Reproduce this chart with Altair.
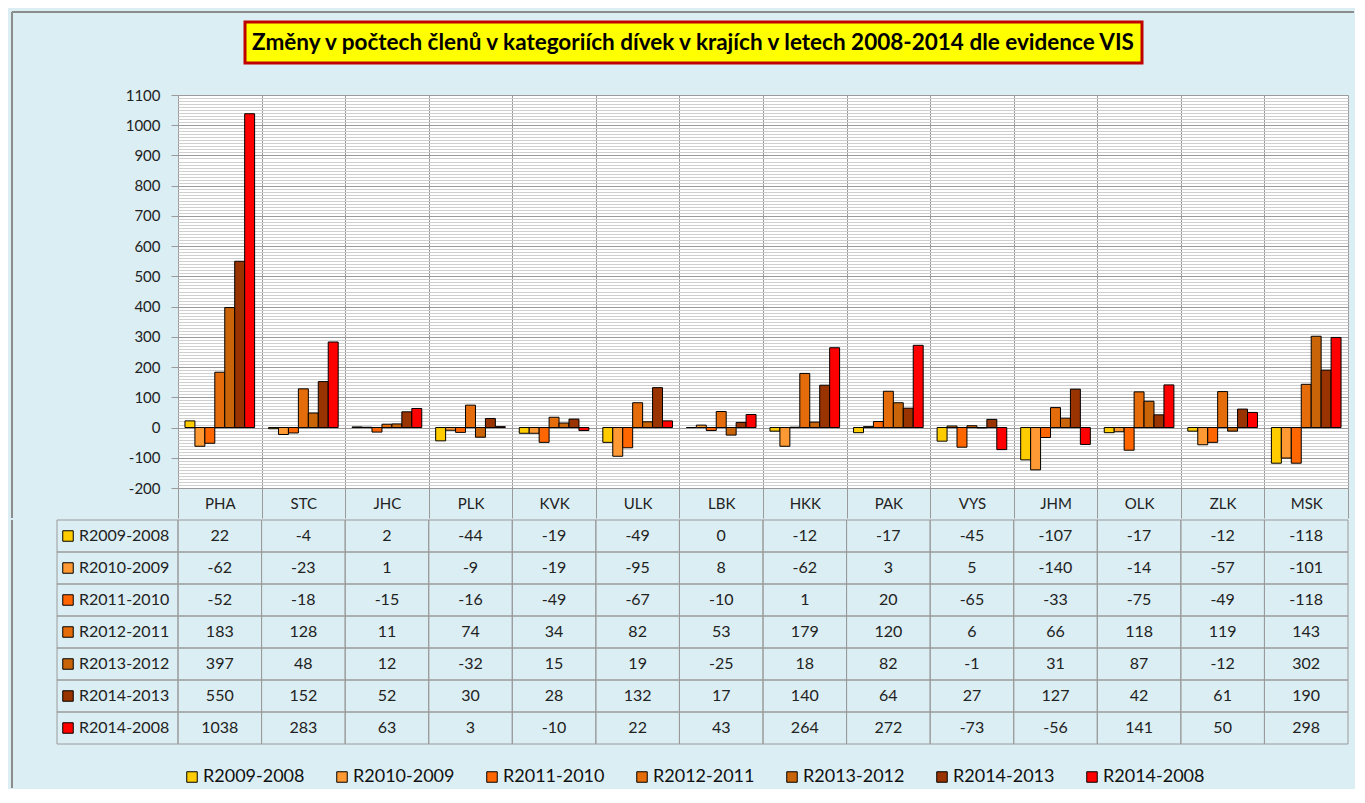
import altair as alt
import pandas as pd

regions = ["PHA", "STC", "JHC", "PLK", "KVK", "ULK", "LBK", "HKK", "PAK", "VYS", "JHM", "OLK", "ZLK", "MSK"]
series = ["R2009-2008", "R2010-2009", "R2011-2010", "R2012-2011", "R2013-2012", "R2014-2013", "R2014-2008"]
colors = ["#FFCC00", "#FF9933", "#FF6600", "#E46C0A", "#C96409", "#993300", "#FF0000"]

r2009_2008 = [22, -4, 2, -44, -19, -49, 0, -12, -17, -45, -107, -17, -12, -118]
r2010_2009 = [-62, -23, 1, -9, -19, -95, 8, -62, 3, 5, -140, -14, -57, -101]
r2011_2010 = [-52, -18, -15, -16, -49, -67, -10, 1, 20, -65, -33, -75, -49, -118]
r2012_2011 = [183, 128, 11, 74, 34, 82, 53, 179, 120, 6, 66, 118, 119, 143]
r2013_2012 = [397, 48, 12, -32, 15, 19, -25, 18, 82, -1, 31, 87, -12, 302]
r2014_2013 = [550, 152, 52, 30, 28, 132, 17, 140, 64, 27, 127, 42, 61, 190]
r2014_2008 = [1038, 283, 63, 3, -10, 22, 43, 264, 272, -73, -56, 141, 50, 298]

y_ticks = [-200, -190, -180, -170, -160, -150, -140, -130, -120, -110,
           -100, -90, -80, -70, -60, -50, -40, -30, -20, -10,
           0, 10, 20, 30, 40, 50, 60, 70, 80, 90,
           100, 110, 120, 130, 140, 150, 160, 170, 180, 190,
           200, 210, 220, 230, 240, 250, 260, 270, 280, 290,
           300, 310, 320, 330, 340, 350, 360, 370, 380, 390,
           400, 410, 420, 430, 440, 450, 460, 470, 480, 490,
           500, 510, 520, 530, 540, 550, 560, 570, 580, 590,
           600, 610, 620, 630, 640, 650, 660, 670, 680, 690,
           700, 710, 720, 730, 740, 750, 760, 770, 780, 790,
           800, 810, 820, 830, 840, 850, 860, 870, 880, 890,
           900, 910, 920, 930, 940, 950, 960, 970, 980, 990,
           1000, 1010, 1020, 1030, 1040, 1050, 1060, 1070, 1080, 1090, 1100]

title_text = "Změny v počtech členů v kategoriích dívek v krajích v letech 2008-2014  dle evidence VIS"

all_values = [r2009_2008, r2010_2009, r2011_2010, r2012_2011, r2013_2012, r2014_2013, r2014_2008]
rows = []
for s, vals in zip(series, all_values):
    for r, v in zip(regions, vals):
        rows.append({"region": r, "series": s, "value": v, "label": str(v)})
df = pd.DataFrame(rows)
ser_df = pd.DataFrame({"series": series})

W = 1170
H = 393
FONT = "Lato"

color = alt.Color(
    "series:N",
    scale=alt.Scale(domain=series, range=colors),
    legend=alt.Legend(
        orient="none", legendX=5, legendY=673, direction="horizontal", columns=7,
        title=None, symbolType="square", symbolSize=110, symbolStrokeColor="black",
        symbolStrokeWidth=1, labelFont=FONT, labelFontSize=18, labelColor="#111",
        labelOffset=2, columnPadding=28, symbolOpacity=1,
    ),
)

x_top = alt.X(
    "region:N", sort=regions, title=None,
    scale=alt.Scale(domain=regions, paddingInner=0, paddingOuter=0),
    axis=alt.Axis(
        orient="bottom", domain=False, grid=True, gridColor="#9a9a9a", gridWidth=1,
        tickBand="extent", tickSize=30, tickColor="#9a9a9a", labelPadding=-22,
        labelFont=FONT, labelFontSize=15, labelColor="#222", labelAngle=0,
    ),
)

bars = alt.Chart(df).mark_bar(stroke="black", strokeWidth=1).encode(
    x=x_top,
    xOffset=alt.XOffset("series:N", sort=series,
                        scale=alt.Scale(domain=series, paddingInner=0, paddingOuter=0.7)),
    y=alt.Y(
        "value:Q", title=None,
        scale=alt.Scale(domain=[-200, 1100], nice=False, zero=False),
        axis=alt.Axis(
            values=y_ticks, grid=True, domain=False,
            gridColor={"condition": {"test": "datum.value % 100 === 0", "value": "#9a9a9a"}, "value": "#cfcfcf"},
            tickColor={"condition": {"test": "datum.value % 100 === 0", "value": "#9a9a9a"}, "value": "transparent"},
            labelExpr="datum.value % 100 === 0 ? '' + datum.value : ''",
            tickSize=7, labelPadding=11, labelFont=FONT, labelFontSize=15, labelColor="#222",
        ),
    ),
    color=color,
)

title_df = pd.DataFrame({"t": [title_text]})
title_box = alt.Chart(title_df).mark_rect(fill="#FFFF00", stroke="#C00000", strokeWidth=3).encode(
    x=alt.value(67), x2=alt.value(964), y=alt.value(-73), y2=alt.value(-32)
)
title_txt = alt.Chart(title_df).mark_text(
    font=FONT, fontSize=22.5, fontWeight="bold", color="black", align="center", baseline="middle"
).encode(x=alt.value(515), y=alt.value(-52), text="t:N")

border_top = alt.Chart(title_df).mark_rule(color="#8c8c8c", strokeWidth=2).encode(
    x=alt.value(-166), x2=alt.value(1176), y=alt.value(-83)
)
border_left = alt.Chart(title_df).mark_rule(color="#8c8c8c", strokeWidth=2).encode(
    x=alt.value(-166), y=alt.value(-83), y2=alt.value(H + 30)
)

top = alt.layer(border_top, border_left, title_box, title_txt, bars).properties(
    width=W, height=H, view=alt.ViewBackground(fill="white", strokeWidth=0)
)

x_tab = alt.X("region:N", sort=regions, title=None,
              scale=alt.Scale(domain=regions, paddingInner=0, paddingOuter=0), axis=None)
y_tab = alt.Y("series:N", sort=series, title=None,
              scale=alt.Scale(domain=series, paddingInner=0, paddingOuter=0), axis=None)

cells = alt.Chart(df).mark_rect(fillOpacity=0, fill="white", stroke="#9a9a9a", strokeWidth=1).encode(
    x=x_tab, y=y_tab
)
cell_text = alt.Chart(df).mark_text(font=FONT, fontSize=16, color="#222", baseline="middle").encode(
    x=x_tab, y=y_tab, text="label:N"
)
label_cells = alt.Chart(ser_df).mark_rect(fillOpacity=0, fill="white", stroke="#9a9a9a", strokeWidth=1).encode(
    x=alt.value(-121), x2=alt.value(0), y=y_tab
)
label_sq = alt.Chart(ser_df).mark_point(shape="square", filled=True, size=110, stroke="black",
                                         strokeWidth=1, opacity=1).encode(
    x=alt.value(-110), y=y_tab, color=color
)
label_txt = alt.Chart(ser_df).mark_text(font=FONT, fontSize=16, color="#222", align="left",
                                        baseline="middle").encode(
    x=alt.value(-99), y=y_tab, text="series:N"
)
border_left2 = alt.Chart(title_df).mark_rule(color="#8c8c8c", strokeWidth=2).encode(
    x=alt.value(-166), y=alt.value(0), y2=alt.value(268)
)

table = alt.layer(border_left2, cells, cell_text, label_cells, label_sq, label_txt).properties(
    width=W, height=224, view=alt.ViewBackground(fill="transparent", strokeWidth=0)
)

chart = alt.vconcat(top, table, spacing=0).properties(
    padding={"left": 3, "top": 3, "right": 0, "bottom": 0}
).configure(background="#DBEEF3")

chart.save("out.html", embed_options={"renderer": "svg", "actions": False})
